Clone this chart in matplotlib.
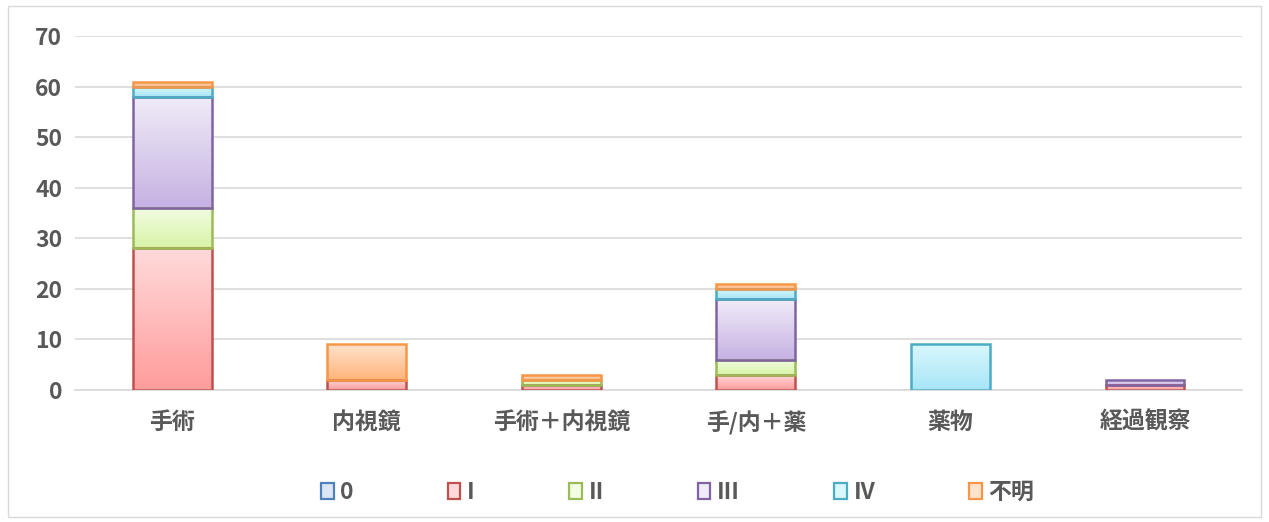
import matplotlib.pyplot as plt
import numpy as np
from matplotlib.colors import LinearSegmentedColormap
from matplotlib.patches import Rectangle, Patch

plt.rcParams['font.family'] = ['Noto Sans CJK JP', 'DejaVu Sans']

categories = ["手術", "内視鏡", "手術＋内視鏡", "手/内＋薬", "薬物", "経過観察"]
stages = ["0", "I", "II", "III", "IV", "不明"]
s0 = [0, 0, 0, 0, 0, 0]
s1 = [28, 2, 1, 3, 0, 1]
s2 = [8, 0, 1, 3, 0, 0]
s3 = [22, 0, 0, 12, 0, 1]
s4 = [2, 0, 0, 2, 9, 0]
s5 = [1, 7, 1, 1, 0, 0]
series = [s0, s1, s2, s3, s4, s5]

edges = ["#4F81BD", "#C0504D", "#9BBB59", "#8064A2", "#4BACC6", "#F79646"]
tops = ["#DCE6F5", "#FFDADA", "#F2FDE3", "#F0EBF8", "#DAF7FD", "#FFE2CC"]
bottoms = ["#A9C3EA", "#FF9C9C", "#D8F3A6", "#C6B2E3", "#A6E6F7", "#FFB47A"]
text_col = "#595959"
fs = 16.5

fig = plt.figure(figsize=(12.69, 5.22), dpi=100)
ax = fig.add_axes([0.059, 0.2529, 0.92, 0.678])

x = np.arange(len(categories))
w = 0.405
bottom = np.zeros(len(categories))
for vals, ec, tc, bc in zip(series, edges, tops, bottoms):
    vals = np.array(vals, dtype=float)
    cmap = LinearSegmentedColormap.from_list("g", [bc, tc])
    keep = vals > 0
    if keep.any():
        bars = ax.bar(x[keep], vals[keep], w, bottom=bottom[keep], color="none",
                      edgecolor=ec, linewidth=1.8, zorder=3)
        for b in bars:
            x0, y0, h = b.get_x(), b.get_y(), b.get_height()
            grad = np.linspace(0, 1, 64).reshape(-1, 1)
            im = ax.imshow(grad, cmap=cmap, origin="lower", aspect="auto",
                           extent=(x0, x0 + b.get_width(), y0, y0 + h), zorder=2)
            im.set_clip_path(b)
    bottom += vals

ax.set_xlim(-0.5, len(categories) - 0.5)
ax.set_ylim(0, 70)
ax.set_yticks(range(0, 71, 10))
ax.set_xticks(x)
ax.set_xticklabels(categories)
ax.grid(axis="y", color="#D9D9D9", linewidth=1.2, zorder=0)
ax.set_axisbelow(True)
for s in ["top", "right", "left"]:
    ax.spines[s].set_visible(False)
ax.spines["bottom"].set_color("#D9D9D9")
ax.spines["bottom"].set_linewidth(1.2)
ax.tick_params(length=0)
ax.tick_params(axis="y", pad=9, labelsize=fs, labelcolor=text_col)
ax.tick_params(axis="x", pad=15, labelsize=fs, labelcolor=text_col)
for lab in ax.get_xticklabels() + ax.get_yticklabels():
    lab.set_fontweight("bold")

handles = [Patch(facecolor=tc, edgecolor=ec, linewidth=1.6) for ec, tc in zip(edges, tops)]
leg = fig.legend(handles, stages, loc="center", bbox_to_anchor=(0.534, 0.057),
                 ncol=6, frameon=False, handlelength=0.55, handleheight=0.7,
                 handletextpad=0.3, columnspacing=4.1,
                 prop={"size": fs, "weight": "bold"})
for t in leg.get_texts():
    t.set_color(text_col)

fig.patches.append(Rectangle((0.006, 0.01), 0.988, 0.978, transform=fig.transFigure,
                             fill=False, edgecolor="#D9D9D9", linewidth=1))

fig.savefig("out.png")
